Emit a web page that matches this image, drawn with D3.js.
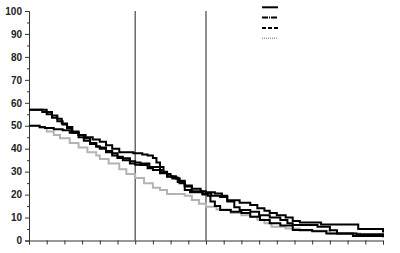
<!DOCTYPE html>
<html>
<head>
<meta charset="utf-8">
<script src="https://cdn.jsdelivr.net/npm/d3@7"></script>
<style>
  body { margin: 0; background: #fff; }
  .axis text { font-family: "Liberation Sans", Arial, sans-serif; font-weight: bold; font-size: 10px; fill: #222; }
  .axis path, .axis line { stroke: #333; }
</style>
</head>
<body>
<div id="chart"></div>
<script>
// survival curves, [time, percent] pairs
var seriesA = [[0,57],[0.75,56],[1.0,55],[1.3,53.5],[1.6,52],[1.9,50.5],[2.15,49],[2.4,47.5],[2.8,46],[3.1,44.5],
  [3.45,42.5],[3.8,41],[4.0,40.5],[4.35,39],[4.7,38],[5.0,36.5],[5.3,35.8],[5.7,34.5],[6.0,34],[6.3,33.5],[6.8,32],
  [7.4,29.3],[7.8,27.8],[8.1,27],[8.5,25],[8.8,23.5],[9.2,21.5],[9.8,20.5],[10.3,19.5],[10.8,19],[11.2,17],[11.6,14.5],
  [11.9,13.3],[12.5,12.5],[13.0,11],[13.6,10],[14.2,8.9],[14.6,7.5],[14.9,6.8],[16.3,6],[17.0,4.5],[17.4,3.1],[18.5,2.7],[20,2.4]];
var seriesB = [[0,57],[1.0,56],[1.3,54.5],[1.6,53],[1.85,51],[2.15,49.5],[2.45,47],[2.8,45],[3.1,43.5],[3.45,42],
  [3.8,41],[4.0,40],[4.35,38.5],[4.7,37],[5.0,36],[5.3,35],[5.7,33.5],[6.0,33],[6.3,32.9],[6.7,31.5],[7.0,30.7],[7.5,29.5],
  [7.8,28],[8.1,27.5],[8.4,25.5],[8.8,22],[9.1,21],[9.8,20],[10.1,19.5],[10.25,17],[10.5,15],[10.8,13.3],[11.4,12.5],
  [12.0,12],[12.5,10.4],[13.05,8.9],[13.6,7.5],[14.2,6.5],[14.9,4.6],[16.0,4],[16.8,3.1],[18.3,2],[20,1.4]];
var seriesC = [[0,50],[0.6,49.5],[0.9,49],[1.4,48.5],[1.9,48],[2.3,47],[2.8,46],[3.2,45],[3.6,44],[4.0,43],[4.35,41.5],
  [4.7,40],[5.1,38.5],[5.9,38],[6.4,37.5],[6.7,37],[7.0,36],[7.2,34],[7.4,32],[7.6,30],[7.8,29],[8.0,28],[8.3,27],
  [8.5,26],[8.8,24],[9.2,22.5],[9.7,21.5],[10.0,21],[10.5,20.5],[10.9,19.5],[11.2,17.5],[11.9,16.5],[12.5,15.5],
  [12.9,14],[13.3,13],[13.6,12],[14.0,11],[14.5,10],[14.9,8.5],[15.3,7.8],[16.5,7],[18.6,5],[20,3.5]];
var seriesGray = [[0,50],[0.6,49],[1.0,47.5],[1.4,46],[1.75,44.5],[2.3,42.5],[2.8,40.5],[3.3,38.5],[3.8,37],[4.0,35.5],
  [4.5,33.5],[5.1,31],[5.5,29],[6.0,27.2],[6.5,25],[7.0,23],[7.4,22],[7.8,20.3],[8.8,19.5],[9.2,17.6],[9.6,16],
  [10.0,14.7],[10.6,13.5],[11.4,12],[12.0,11],[12.5,10.3],[12.9,9],[13.3,7.5],[13.7,6],[14.5,5.2],[15.3,4.2],
  [17.0,3],[18.7,2],[20,1.5]];

var yTicks = [0, 10, 20, 30, 40, 50, 60, 70, 80, 90, 100];
var markerTimes = [6, 10];
var legendStyles = ["none", "6,1,1,1", "4,2", "1,1"];

var width = 400, height = 253;
var margin = {top: 11, right: 17, bottom: 12.5, left: 29};

var svg = d3.select('#chart').append('svg')
  .attr('width', width)
  .attr('height', height);

var x = d3.scaleLinear().domain([0, 20]).range([margin.left, width - margin.right]);
var y = d3.scaleLinear().domain([0, 100]).range([height - margin.bottom, margin.top]);

// minor ticks on y every 5
svg.append('g')
  .attr('class', 'axis')
  .attr('transform', 'translate(' + margin.left + ',0)')
  .call(d3.axisLeft(y).tickValues(d3.range(5, 100, 10)).tickSize(2).tickFormat(''))
  .select('.domain').remove();

svg.append('g')
  .attr('class', 'axis')
  .attr('transform', 'translate(' + margin.left + ',0)')
  .call(d3.axisLeft(y).tickValues(yTicks).tickSize(4).tickPadding(3));

svg.append('g')
  .attr('class', 'axis')
  .attr('transform', 'translate(0,' + y(0) + ')')
  .call(d3.axisBottom(x).ticks(20).tickSize(4).tickFormat(''));

svg.selectAll('line.marker').data(markerTimes).enter().append('line')
  .attr('class', 'marker')
  .attr('x1', function(d) { return x(d); })
  .attr('x2', function(d) { return x(d); })
  .attr('y1', y(0))
  .attr('y2', y(100))
  .attr('stroke', '#444')
  .attr('stroke-width', 1.2);

var line = d3.line()
  .x(function(d) { return x(d[0]); })
  .y(function(d) { return y(d[1]); })
  .curve(d3.curveStepAfter);

var curves = [
  {data: seriesGray, color: '#b3b3b3'},
  {data: seriesA, color: '#000'},
  {data: seriesB, color: '#000'},
  {data: seriesC, color: '#000'}
];

svg.selectAll('path.curve').data(curves).enter().append('path')
  .attr('class', 'curve')
  .attr('d', function(d) { return line(d.data); })
  .attr('fill', 'none')
  .attr('stroke', function(d) { return d.color; })
  .attr('stroke-width', 2);

// legend samples, no labels
svg.selectAll('line.legend').data(legendStyles).enter().append('line')
  .attr('class', 'legend')
  .attr('x1', 262)
  .attr('x2', 278)
  .attr('y1', function(d, i) { return 7.3 + i * 10.3; })
  .attr('y2', function(d, i) { return 7.3 + i * 10.3; })
  .attr('stroke', function(d, i) { return i == 3 ? '#999' : '#000'; })
  .attr('stroke-width', function(d, i) { return i == 3 ? 1.5 : 2; })
  .attr('stroke-dasharray', function(d) { return d; });
</script>
</body>
</html>
